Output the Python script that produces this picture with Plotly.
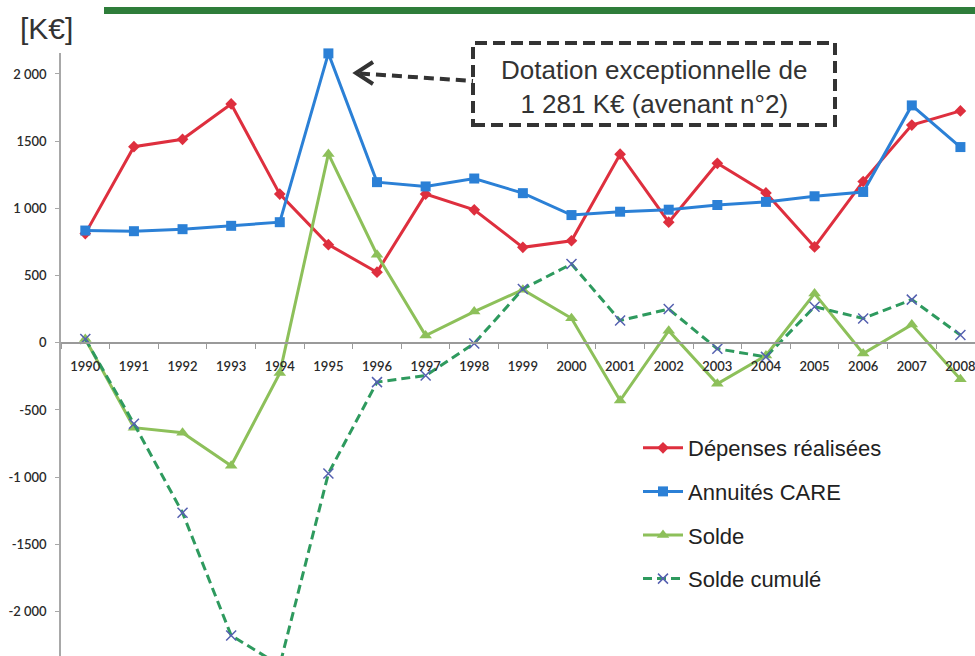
import plotly.graph_objects as go

# --- data (K€) ---
years = [str(y) for y in range(1990, 2009)]
depenses = [812, 1459, 1514, 1777, 1106, 730, 525, 1106, 989, 710, 759, 1403, 897,
            1335, 1115, 713, 1200, 1620, 1725]
annuites = [835, 830, 845, 870, 897, 2153, 1195, 1163, 1222, 1113, 950, 975, 990,
            1025, 1048, 1090, 1122, 1766, 1456]
solde = [28, -632, -670, -915, -226, 1405, 655, 53, 232, 395, 182, -430, 90,
         -305, -95, 366, -80, 135, -272]
solde_cumule = [28, -603, -1265, -2178, -2400, -973, -293, -244, -5, 400, 586, 165, 251,
                -45, -105, 268, 181, 321, 57]

y_ticks = [-2000, -1500, -1000, -500, 0, 500, 1000, 1500, 2000]
y_ticktext = ["-2 000", "-1500", "-1 000", "-500", "0", "500", "1 000", "1500", "2 000"]

Y_MIN, Y_MAX = -2331, 2156

# page / plot geometry (pixels)
FIG_W, FIG_H = 975, 656
M_L, M_T = 61, 53
PLOT_W, PLOT_H = FIG_W - M_L, FIG_H - M_T


def px_x(p):
    return (p - M_L) / PLOT_W


def px_y(p):
    return (FIG_H - p) / PLOT_H


RED = "#DE2F3E"
BLUE = "#2B80D6"
GREEN = "#8DC05A"
DGREEN = "#2E9A5E"
PURPLE = "#5560B0"
TEXT = "#333333"
TICK_FONT = dict(family="Lato, Open Sans, sans-serif", size=13, color="#2a2a2a", weight=600)

fig = go.Figure()

fig.add_trace(go.Scatter(
    x=years, y=depenses, name="Dépenses réalisées", mode="lines+markers",
    line=dict(color=RED, width=3),
    marker=dict(symbol="diamond", size=9, color=RED),
    legendgroup="a", cliponaxis=False))
fig.add_trace(go.Scatter(
    x=years, y=annuites, name="Annuités CARE", mode="lines+markers",
    line=dict(color=BLUE, width=3),
    marker=dict(symbol="square", size=10, color=BLUE),
    legendgroup="b", cliponaxis=False))
fig.add_trace(go.Scatter(
    x=years, y=solde, name="Solde", mode="lines+markers",
    line=dict(color=GREEN, width=3),
    marker=dict(symbol="triangle-up", size=11, color=GREEN),
    legendgroup="c", cliponaxis=False))
fig.add_trace(go.Scatter(
    x=years, y=solde_cumule, name="Solde cumulé", mode="lines+markers",
    line=dict(color=DGREEN, width=3, dash="9px,5px"),
    marker=dict(symbol="x-thin", size=10, color=PURPLE,
                line=dict(color=PURPLE, width=1.5)),
    legendgroup="d", cliponaxis=False))

zero_pos = (0 - Y_MIN) / (Y_MAX - Y_MIN)

fig.update_layout(
    width=FIG_W, height=FIG_H,
    margin=dict(l=M_L, r=0, t=M_T, b=0),
    paper_bgcolor="white", plot_bgcolor="white",
    xaxis=dict(
        type="category", categoryorder="array", categoryarray=years,
        range=[-0.5, 18.3], anchor="free", position=zero_pos,
        showline=True, linecolor="#9a9a9a", linewidth=2,
        ticks="outside", tickson="boundaries", ticklen=5, tickcolor="#9a9a9a",
        showgrid=False, zeroline=False, ticklabelstandoff=12,
        tickfont=TICK_FONT,
    ),
    yaxis=dict(
        range=[Y_MIN, Y_MAX], tickvals=y_ticks, ticktext=y_ticktext,
        showline=True, linecolor="#a8a8a8", linewidth=1.5,
        ticks="outside", ticklen=4, tickcolor="#a8a8a8",
        showgrid=False, zeroline=False, ticklabelstandoff=6,
        tickfont=TICK_FONT,
    ),
    legend=dict(
        x=px_x(638), y=px_y(427), xanchor="left", yanchor="top",
        bgcolor="rgba(0,0,0,0)", borderwidth=0,
        font=dict(family="Liberation Sans, Arial", size=22, color="#222222"),
        itemwidth=40, tracegroupgap=12, traceorder="grouped",
    ),
    showlegend=True,
)

shapes = [
    # header rule
    dict(type="rect", xref="paper", yref="paper",
         x0=px_x(104), x1=px_x(975), y0=px_y(14), y1=px_y(7),
         fillcolor="#2E7D3A", line=dict(width=0), layer="above"),
    # callout box
    dict(type="rect", xref="paper", yref="paper",
         x0=px_x(473), x1=px_x(835), y0=px_y(125), y1=px_y(43),
         fillcolor="rgba(0,0,0,0)", line=dict(color=TEXT, width=4, dash="12px,6px")),
    # callout leader
    dict(type="line", xref="paper", yref="paper",
         x0=px_x(360), y0=px_y(73.5), x1=px_x(473), y1=px_y(81),
         line=dict(color=TEXT, width=4, dash="10px,6px")),
    # arrow head
    dict(type="path", xref="paper", yref="paper",
         path=f"M {px_x(373)},{px_y(62)} L {px_x(356)},{px_y(73)} L {px_x(373)},{px_y(84)}",
         line=dict(color=TEXT, width=4)),
]
fig.update_layout(shapes=shapes)

fig.add_annotation(
    xref="paper", yref="paper", x=px_x(654), y=px_y(87),
    xanchor="center", yanchor="middle", showarrow=False,
    text="Dotation exceptionnelle de<br>1 281 K€ (avenant n°2)",
    font=dict(family="Liberation Sans, Arial", size=26, color=TEXT))
fig.add_annotation(
    xref="paper", yref="paper", x=px_x(18), y=px_y(29),
    xanchor="left", yanchor="middle", showarrow=False,
    text="[K€]",
    font=dict(family="Liberation Sans, Arial", size=30, color=TEXT))

fig.write_html("out.html")
